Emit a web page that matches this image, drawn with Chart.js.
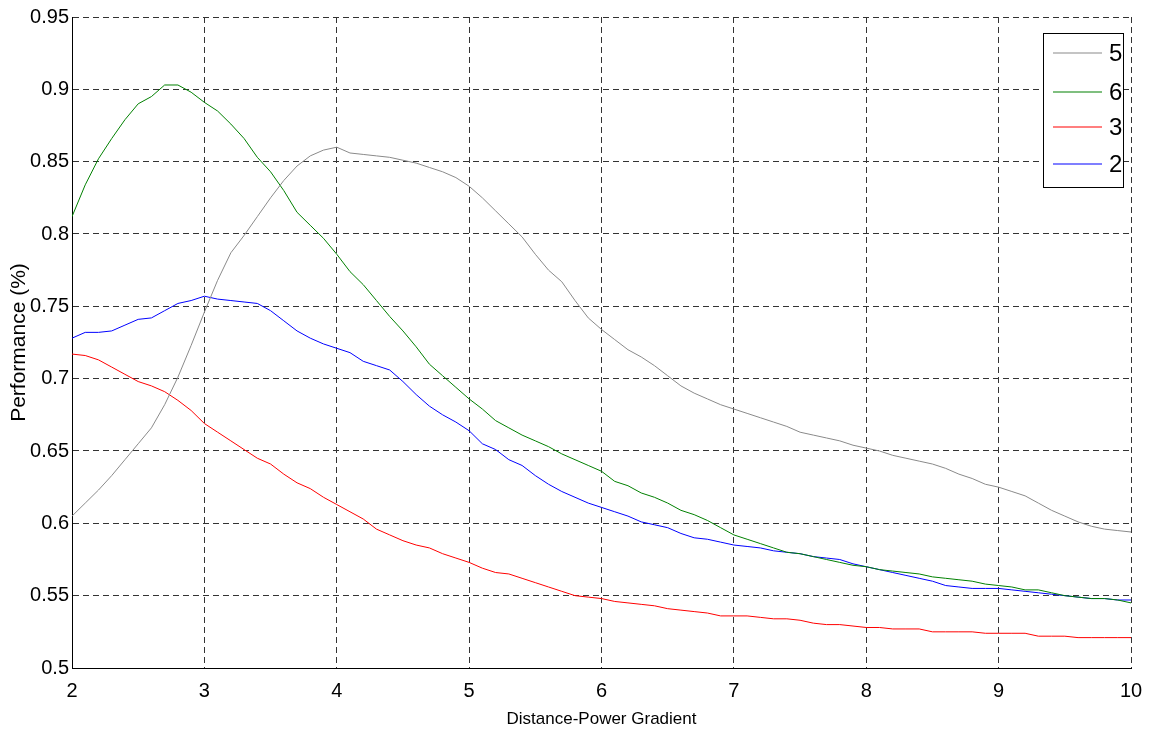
<!DOCTYPE html>
<html>
<head>
<meta charset="utf-8">
<script src="https://cdn.jsdelivr.net/npm/chart.js@4.4.1/dist/chart.umd.min.js"></script>
<style>
  html, body { margin: 0; padding: 0; background: #fff; }
  #wrap { width: 1150px; height: 735px; }
</style>
</head>
<body>
<div id="wrap"><canvas id="perfChart" width="1150" height="735"></canvas></div>
<script>
// Donnees (pas de 0.1)
const gradients = [];
for (let i = 0; i <= 80; i++) gradients.push(2 + i / 10);

const seriesLabels = ['5', '6', '3', '2'];
const seriesColors = ['#8a8a8a', '#008000', '#ff0000', '#0000ff'];

const perf5 = [
  0.605, 0.614, 0.623, 0.633, 0.644, 0.655, 0.666, 0.682, 0.701, 0.723,
  0.746, 0.768, 0.787, 0.799, 0.812, 0.825, 0.837, 0.847, 0.854, 0.858,
  0.860, 0.856, 0.855, 0.854, 0.853, 0.851, 0.849, 0.846, 0.843, 0.839,
  0.833, 0.825, 0.816, 0.807, 0.798, 0.786, 0.775, 0.767, 0.754, 0.742,
  0.734, 0.727, 0.720, 0.715, 0.709, 0.702, 0.695, 0.690, 0.686, 0.682,
  0.679, 0.676, 0.673, 0.670, 0.667, 0.663, 0.661, 0.659, 0.657, 0.654,
  0.652, 0.650, 0.647, 0.645, 0.643, 0.641, 0.638, 0.634, 0.631, 0.627,
  0.625, 0.622, 0.619, 0.614, 0.609, 0.605, 0.601, 0.598, 0.596, 0.595,
  0.594
];
const perf6 = [
  0.812, 0.834, 0.852, 0.866, 0.879, 0.890, 0.895, 0.903, 0.903, 0.898,
  0.891, 0.885, 0.876, 0.866, 0.853, 0.843, 0.830, 0.815, 0.806, 0.797,
  0.786, 0.774, 0.765, 0.754, 0.743, 0.733, 0.722, 0.710, 0.702, 0.694,
  0.686, 0.679, 0.671, 0.666, 0.661, 0.657, 0.653, 0.648, 0.644, 0.640,
  0.636, 0.629, 0.626, 0.621, 0.618, 0.614, 0.609, 0.606, 0.602, 0.597,
  0.592, 0.589, 0.586, 0.583, 0.580, 0.579, 0.577, 0.575, 0.573, 0.571,
  0.570, 0.568, 0.567, 0.566, 0.565, 0.563, 0.562, 0.561, 0.560, 0.558,
  0.557, 0.556, 0.554, 0.554, 0.552, 0.550, 0.549, 0.548, 0.548, 0.547,
  0.545
];
const perf3 = [
  0.717, 0.716, 0.713, 0.708, 0.703, 0.698, 0.695, 0.691, 0.685, 0.678,
  0.669, 0.663, 0.657, 0.651, 0.645, 0.641, 0.634, 0.628, 0.624, 0.618,
  0.613, 0.608, 0.603, 0.596, 0.592, 0.588, 0.585, 0.583, 0.579, 0.576,
  0.573, 0.569, 0.566, 0.565, 0.562, 0.559, 0.556, 0.553, 0.550, 0.549,
  0.548, 0.546, 0.545, 0.544, 0.543, 0.541, 0.540, 0.539, 0.538, 0.536,
  0.536, 0.536, 0.535, 0.534, 0.534, 0.533, 0.531, 0.530, 0.530, 0.529,
  0.528, 0.528, 0.527, 0.527, 0.527, 0.525, 0.525, 0.525, 0.525, 0.524,
  0.524, 0.524, 0.524, 0.522, 0.522, 0.522, 0.521, 0.521, 0.521, 0.521,
  0.521
];
const perf2 = [
  0.728, 0.732, 0.732, 0.733, 0.737, 0.741, 0.742, 0.747, 0.752, 0.754,
  0.757, 0.755, 0.754, 0.753, 0.752, 0.747, 0.740, 0.733, 0.728, 0.724,
  0.721, 0.718, 0.712, 0.709, 0.706, 0.698, 0.689, 0.681, 0.675, 0.670,
  0.664, 0.655, 0.651, 0.644, 0.640, 0.633, 0.627, 0.622, 0.618, 0.614,
  0.611, 0.608, 0.605, 0.601, 0.599, 0.597, 0.593, 0.590, 0.589, 0.587,
  0.585, 0.584, 0.583, 0.581, 0.580, 0.579, 0.577, 0.576, 0.575, 0.572,
  0.570, 0.568, 0.566, 0.564, 0.562, 0.560, 0.557, 0.556, 0.555, 0.555,
  0.555, 0.554, 0.553, 0.552, 0.551, 0.550, 0.549, 0.548, 0.548, 0.547,
  0.547
];

const xTicks = [2, 3, 4, 5, 6, 7, 8, 9, 10];
const yTicks = [0.5, 0.55, 0.6, 0.65, 0.7, 0.75, 0.8, 0.85, 0.9, 0.95];
const yTickLabels = ['0.5', '0.55', '0.6', '0.65', '0.7', '0.75', '0.8', '0.85', '0.9', '0.95'];

const FONT = "'Liberation Sans', Arial, sans-serif";

function toPoints(values) {
    return values.map((v, i) => ({ x: gradients[i], y: v }));
}

// Legende dessinee dans la zone du graphique (coin haut droit)
const boxLegend = {
    id: 'boxLegend',
    afterDraw(chart) {
        const ctx = chart.ctx;
        const x0 = 1043, y0 = 33, w = 80, h = 154;
        const rowY = [53, 92, 127, 164];
        ctx.save();
        ctx.setLineDash([]);
        ctx.fillStyle = '#fff';
        ctx.fillRect(x0, y0, w, h);
        ctx.strokeStyle = '#000';
        ctx.lineWidth = 1;
        ctx.strokeRect(x0 + 0.5, y0 + 0.5, w, h);
        ctx.font = '24px ' + FONT;
        ctx.textBaseline = 'middle';
        chart.data.datasets.forEach((ds, i) => {
            ctx.strokeStyle = seriesColors[i];
            ctx.lineWidth = 1.2;
            ctx.beginPath();
            ctx.moveTo(x0 + 10, rowY[i]);
            ctx.lineTo(x0 + 59, rowY[i]);
            ctx.stroke();
            ctx.fillStyle = '#000';
            ctx.fillText(ds.label, x0 + 66, rowY[i] + 1);
        });
        ctx.restore();
    }
};

document.addEventListener('DOMContentLoaded', function() {
    const datasets = [perf5, perf6, perf3, perf2].map((vals, i) => ({
        label: seriesLabels[i],
        data: toPoints(vals),
        borderColor: seriesColors[i],
        backgroundColor: seriesColors[i],
        borderWidth: 1,
        pointRadius: 0,
        tension: 0,
        fill: false
    }));

    new Chart(document.getElementById('perfChart'), {
        type: 'line',
        data: { datasets: datasets },
        options: {
            responsive: false,
            animation: false,
            layout: { padding: { top: 17, right: 19, left: 0, bottom: 0 } },
            plugins: {
                legend: { display: false },
                tooltip: { enabled: false }
            },
            scales: {
                x: {
                    type: 'linear',
                    min: 2,
                    max: 10,
                    afterBuildTicks: (scale) => { scale.ticks = xTicks.map(v => ({ value: v })); },
                    afterFit: (scale) => {
                        scale.height = 67;
                        scale.paddingLeft = 0;
                        scale.paddingRight = 0;
                    },
                    grid: {
                        color: '#333',
                        lineWidth: 1,
                        drawTicks: false
                    },
                    border: { display: true, color: '#000', width: 1, dash: [6, 4] },
                    ticks: {
                        color: '#000',
                        padding: 11,
                        font: { family: FONT, size: 20 },
                        maxRotation: 0,
                        callback: (v) => String(v)
                    },
                    title: {
                        display: true,
                        text: 'Distance-Power Gradient',
                        color: '#000',
                        font: { family: FONT, size: 17 },
                        padding: { top: 0, bottom: 5 }
                    }
                },
                y: {
                    type: 'linear',
                    min: 0.5,
                    max: 0.95,
                    afterBuildTicks: (scale) => { scale.ticks = yTicks.map(v => ({ value: v })); },
                    afterFit: (scale) => {
                        scale.width = 72;
                        scale.paddingTop = 0;
                        scale.paddingBottom = 0;
                    },
                    grid: {
                        color: '#333',
                        lineWidth: 1,
                        drawTicks: false
                    },
                    border: { display: true, color: '#000', width: 1, dash: [6, 4] },
                    ticks: {
                        color: '#000',
                        padding: 3,
                        font: { family: FONT, size: 20 },
                        callback: (v, i) => yTickLabels[i]
                    },
                    title: {
                        display: true,
                        text: 'Performance (%)',
                        color: '#000',
                        font: { family: FONT, size: 21 },
                        padding: { top: 7, bottom: 0 }
                    }
                }
            }
        },
        plugins: [boxLegend]
    });
});
</script>
</body>
</html>
